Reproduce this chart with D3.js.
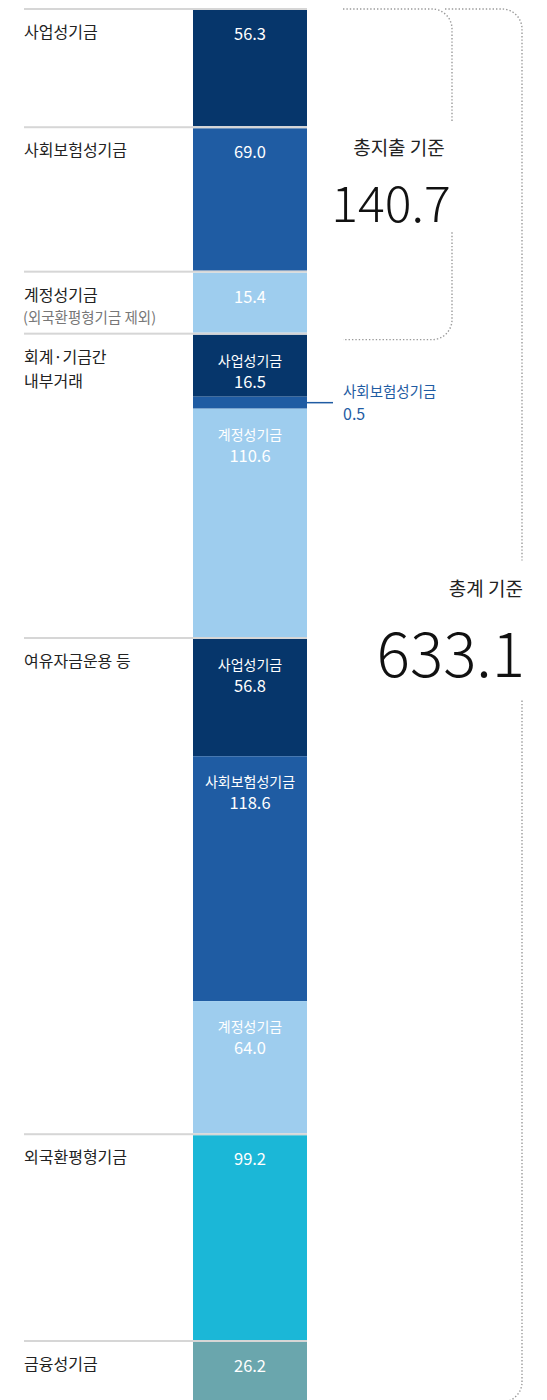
<!DOCTYPE html>
<html>
<head>
<meta charset="utf-8">
<script src="https://cdn.jsdelivr.net/npm/d3@7"></script>
<style>
  body { margin: 0; background: #fff; }
  text { font-family: "Noto Sans CJK KR", "Noto Sans", sans-serif; }
</style>
</head>
<body>
<svg id="fund_chart"></svg>
<script>
// groups (left labels)
const groupLabels = [["사업성기금"], ["사회보험성기금"], ["계정성기금"], ["회계·기금간", "내부거래"], ["여유자금운용 등"], ["외국환평형기금"], ["금융성기금"]];
const groupNotes = [null, null, "(외국환평형기금 제외)", null, null, null, null];

// stacked segments
const segGroup = [0, 1, 2, 3, 3, 3, 4, 4, 4, 5, 6];
const segType = ["사업성기금", "사회보험성기금", "계정성기금", "사업성기금", "사회보험성기금", "계정성기금", "사업성기금", "사회보험성기금", "계정성기금", "외국환평형기금", "금융성기금"];
const segValue = [56.3, 69.0, 15.4, 16.5, 0.5, 110.6, 56.8, 118.6, 64.0, 99.2, 26.2];
const segNamed = [false, false, false, true, false, true, true, true, true, false, false];

const fundTypes = ["사업성기금", "사회보험성기금", "계정성기금", "외국환평형기금", "금융성기금"];
const fundColors = ["#06366b", "#1f5ca3", "#9ecdee", "#1bb7d7", "#6aa6ad"];

const W = 547, H = 1400;
const svg = d3.select("#fund_chart").attr("width", W).attr("height", H);
const color = d3.scaleOrdinal().domain(fundTypes).range(fundColors);
const fmt = d3.format(".1f");

const segs = segValue.map((v, i) => ({value: v, group: segGroup[i], type: segType[i], named: segNamed[i]}));
const total = d3.sum(segValue);
const spendTotal = d3.sum(segs.filter(d => d.group < 3), d => d.value);

const top0 = 10, bottom0 = 1402, gap = 2;
const barX0 = 193, barX1 = 307, lineX0 = 24;
const nGaps = d3.max(segGroup);
const avail = bottom0 - top0 - gap * nGaps;
const minH = d => d.value < 2 ? 12 : (d.named ? 62 : 60);

// linear height scale, small segments clamped to a minimum so labels fit
const hScale = d3.scaleLinear().domain([0, total]).range([0, avail]);
for (let i = 0; i < 6; i++) {
    const fixed = segs.filter(d => hScale(d.value) < minH(d));
    const freeVal = total - d3.sum(fixed, d => d.value);
    hScale.domain([0, freeVal]).range([0, avail - d3.sum(fixed, minH)]);
}
let yy = top0;
segs.forEach((d, i) => {
    if (i > 0 && d.group !== segs[i - 1].group) yy += gap;
    d.y0 = yy;
    d.h = Math.max(hScale(d.value), minH(d));
    yy += d.h;
    d.y1 = yy;
});
const groupTop = g => d3.min(segs.filter(d => d.group === g), d => d.y0);
const groupBot = g => d3.max(segs.filter(d => d.group === g), d => d.y1);

// bars
svg.append("g").selectAll("rect").data(segs).join("rect")
    .attr("x", barX0).attr("width", barX1 - barX0)
    .attr("y", d => d.y0).attr("height", d => d.h)
    .attr("fill", d => color(d.type));

// separators
svg.append("g").selectAll("rect").data(groupLabels).join("rect")
    .attr("x", lineX0).attr("width", barX1 - lineX0)
    .attr("y", (d, i) => groupTop(i) - 2).attr("height", 2)
    .attr("fill", "#d6d6d6");

// left labels
const gl = svg.append("g").selectAll("text").data(groupLabels).join("text")
    .attr("x", lineX0).attr("y", (d, i) => groupTop(i) + 28)
    .attr("font-size", 16).attr("fill", "#222");
gl.selectAll("tspan").data(d => d).join("tspan")
    .attr("x", lineX0).attr("dy", (d, i) => i === 0 ? 0 : 24).text(d => d);
svg.append("g").selectAll("text").data(groupNotes.map((n, i) => ({n, i})).filter(d => d.n)).join("text")
    .attr("x", lineX0 - 1).attr("y", d => groupTop(d.i) + 50)
    .attr("font-size", 14.5).attr("fill", "#777").text(d => d.n);

// in-bar labels
const cx = (barX0 + barX1) / 2;
const inBar = segs.filter(d => d.h > 20);
svg.append("g").selectAll("text").data(inBar.filter(d => d.named)).join("text")
    .attr("x", cx).attr("y", d => d.y0 + 31).attr("text-anchor", "middle")
    .attr("font-size", 14).attr("fill", "#fff").text(d => d.type);
svg.append("g").selectAll("text").data(inBar).join("text")
    .attr("x", cx).attr("y", d => d.y0 + (d.named ? 53 : 30)).attr("text-anchor", "middle")
    .attr("font-size", 16.5).attr("fill", "#fff").text(d => fmt(d.value));

// callout for tiny segment
const tiny = segs.filter(d => d.h <= 20);
const tinyG = svg.append("g").selectAll("g").data(tiny).join("g");
tinyG.append("line")
    .attr("x1", barX1).attr("x2", barX1 + 26)
    .attr("y1", d => d.y0 + d.h / 2).attr("y2", d => d.y0 + d.h / 2)
    .attr("stroke", d => color(d.type)).attr("stroke-width", 1.5);
tinyG.append("text").attr("x", barX1 + 36).attr("y", d => d.y0 + d.h / 2 - 6)
    .attr("font-size", 14.5).attr("fill", d => color(d.type)).text(d => d.type);
tinyG.append("text").attr("x", barX1 + 36).attr("y", d => d.y0 + d.h / 2 + 17)
    .attr("font-size", 16).attr("fill", d => color(d.type)).text(d => fmt(d.value));

// dotted brackets
function bracket(x0, x1, top, bottom, gapTop, gapBot, r) {
    const p = d3.path();
    p.moveTo(x0, top);
    p.lineTo(x1 - r, top);
    p.arcTo(x1, top, x1, top + r, r);
    p.lineTo(x1, gapTop);
    p.moveTo(x1, gapBot);
    p.lineTo(x1, bottom - r);
    p.arcTo(x1, bottom, x1 - r, bottom, r);
    p.lineTo(x0, bottom);
    return p.toString();
}
const dotted = g => g.attr("fill", "none").attr("stroke", "#9a9a9a")
    .attr("stroke-width", 1.4).attr("stroke-dasharray", "1.4 2");

const bigFont = "'Noto Sans CJK KR', 'Noto Sans', sans-serif";
const b1Top = top0 - 1, b1Bot = groupBot(2) + 7;
const b1Mid = (b1Top + b1Bot) / 2;
svg.append("path").attr("d", bracket(343, 452, b1Top, b1Bot, b1Mid - 52, b1Mid + 58, 20)).call(dotted);
svg.append("text").attr("x", 399).attr("y", b1Mid - 19).attr("text-anchor", "middle")
    .attr("font-size", 19).attr("fill", "#222").text("총지출 기준");
svg.append("text").attr("x", 391).attr("y", b1Mid + 48).attr("text-anchor", "middle")
    .attr("font-size", 50).attr("font-weight", 300).attr("fill", "#111")
    .style("font-family", bigFont).text(fmt(spendTotal));

const b2Top = top0 - 1, b2Bot = bottom0;
const b2Mid = (b2Top + b2Bot) / 2 - 75;
svg.append("path").attr("d", bracket(445, 522, b2Top, b2Bot, b2Mid - 70, b2Mid + 70, 20)).call(dotted);
svg.append("text").attr("x", 523).attr("y", b2Mid - 35).attr("text-anchor", "end")
    .attr("font-size", 19).attr("fill", "#222").text("총계 기준");
svg.append("text").attr("x", 525).attr("y", b2Mid + 46).attr("text-anchor", "end")
    .attr("font-size", 62).attr("font-weight", 300).attr("fill", "#111")
    .style("font-family", bigFont).text(fmt(total));
</script>
</body>
</html>
